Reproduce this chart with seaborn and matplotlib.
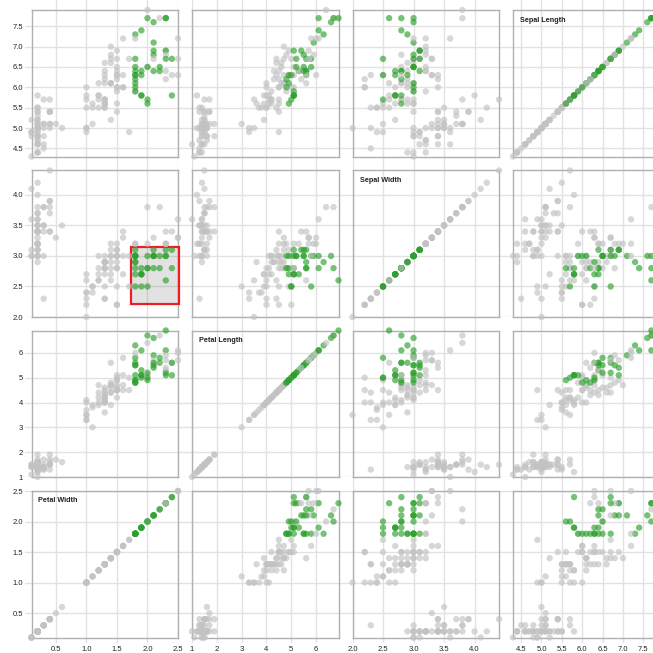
import matplotlib
matplotlib.use("Agg")
import matplotlib.pyplot as plt
import pandas as pd
import seaborn as sns
from matplotlib.patches import Rectangle

# Fisher's iris measurements (cm)
sepal_length = [
    5.1, 4.9, 4.7, 4.6, 5.0, 5.4, 4.6, 5.0, 4.4, 4.9, 5.4, 4.8, 4.8, 4.3, 5.8, 5.7, 5.4, 5.1, 5.7, 5.1,
    5.4, 5.1, 4.6, 5.1, 4.8, 5.0, 5.0, 5.2, 5.2, 4.7, 4.8, 5.4, 5.2, 5.5, 4.9, 5.0, 5.5, 4.9, 4.4, 5.1,
    5.0, 4.5, 4.4, 5.0, 5.1, 4.8, 5.1, 4.6, 5.3, 5.0,
    7.0, 6.4, 6.9, 5.5, 6.5, 5.7, 6.3, 4.9, 6.6, 5.2, 5.0, 5.9, 6.0, 6.1, 5.6, 6.7, 5.6, 5.8, 6.2, 5.6,
    5.9, 6.1, 6.3, 6.1, 6.4, 6.6, 6.8, 6.7, 6.0, 5.7, 5.5, 5.5, 5.8, 6.0, 5.4, 6.0, 6.7, 6.3, 5.6, 5.5,
    5.5, 6.1, 5.8, 5.0, 5.6, 5.7, 5.7, 6.2, 5.1, 5.7,
    6.3, 5.8, 7.1, 6.3, 6.5, 7.6, 4.9, 7.3, 6.7, 7.2, 6.5, 6.4, 6.8, 5.7, 5.8, 6.4, 6.5, 7.7, 7.7, 6.0,
    6.9, 5.6, 7.7, 6.3, 6.7, 7.2, 6.2, 6.1, 6.4, 7.2, 7.4, 7.9, 6.4, 6.3, 6.1, 7.7, 6.3, 6.4, 6.0, 6.9,
    6.7, 6.9, 5.8, 6.8, 6.7, 6.7, 6.3, 6.5, 6.2, 5.9,
]
sepal_width = [
    3.5, 3.0, 3.2, 3.1, 3.6, 3.9, 3.4, 3.4, 2.9, 3.1, 3.7, 3.4, 3.0, 3.0, 4.0, 4.4, 3.9, 3.5, 3.8, 3.8,
    3.4, 3.7, 3.6, 3.3, 3.4, 3.0, 3.4, 3.5, 3.4, 3.2, 3.1, 3.4, 4.1, 4.2, 3.1, 3.2, 3.5, 3.6, 3.0, 3.4,
    3.5, 2.3, 3.2, 3.5, 3.8, 3.0, 3.8, 3.2, 3.7, 3.3,
    3.2, 3.2, 3.1, 2.3, 2.8, 2.8, 3.3, 2.4, 2.9, 2.7, 2.0, 3.0, 2.2, 2.9, 2.9, 3.1, 3.0, 2.7, 2.2, 2.5,
    3.2, 2.8, 2.5, 2.8, 2.9, 3.0, 2.8, 3.0, 2.9, 2.6, 2.4, 2.4, 2.7, 2.7, 3.0, 3.4, 3.1, 2.3, 3.0, 2.5,
    2.6, 3.0, 2.6, 2.3, 2.7, 3.0, 2.9, 2.9, 2.5, 2.8,
    3.3, 2.7, 3.0, 2.9, 3.0, 3.0, 2.5, 2.9, 2.5, 3.6, 3.2, 2.7, 3.0, 2.5, 2.8, 3.2, 3.0, 3.8, 2.6, 2.2,
    3.2, 2.8, 2.8, 2.7, 3.3, 3.2, 2.8, 3.0, 2.8, 3.0, 2.8, 3.8, 2.8, 2.8, 2.6, 3.0, 3.4, 3.1, 3.0, 3.1,
    3.1, 3.1, 2.7, 3.2, 3.3, 3.0, 2.5, 3.0, 3.4, 3.0,
]
petal_length = [
    1.4, 1.4, 1.3, 1.5, 1.4, 1.7, 1.4, 1.5, 1.4, 1.5, 1.5, 1.6, 1.4, 1.1, 1.2, 1.5, 1.3, 1.4, 1.7, 1.5,
    1.7, 1.5, 1.0, 1.7, 1.9, 1.6, 1.6, 1.5, 1.4, 1.6, 1.6, 1.5, 1.5, 1.4, 1.5, 1.2, 1.3, 1.4, 1.3, 1.5,
    1.3, 1.3, 1.3, 1.6, 1.9, 1.4, 1.6, 1.4, 1.5, 1.4,
    4.7, 4.5, 4.9, 4.0, 4.6, 4.5, 4.7, 3.3, 4.6, 3.9, 3.5, 4.2, 4.0, 4.7, 3.6, 4.4, 4.5, 4.1, 4.5, 3.9,
    4.8, 4.0, 4.9, 4.7, 4.3, 4.4, 4.8, 5.0, 4.5, 3.5, 3.8, 3.7, 3.9, 5.1, 4.5, 4.5, 4.7, 4.4, 4.1, 4.0,
    4.4, 4.6, 4.0, 3.3, 4.2, 4.2, 4.2, 4.3, 3.0, 4.1,
    6.0, 5.1, 5.9, 5.6, 5.8, 6.6, 4.5, 6.3, 5.8, 6.1, 5.1, 5.3, 5.5, 5.0, 5.1, 5.3, 5.5, 6.7, 6.9, 5.0,
    5.7, 4.9, 6.7, 4.9, 5.7, 6.0, 4.8, 4.9, 5.6, 5.8, 6.1, 6.4, 5.6, 5.1, 5.6, 6.1, 5.6, 5.5, 4.8, 5.4,
    5.6, 5.1, 5.1, 5.9, 5.7, 5.2, 5.0, 5.2, 5.4, 5.1,
]
petal_width = [
    0.2, 0.2, 0.2, 0.2, 0.2, 0.4, 0.3, 0.2, 0.2, 0.1, 0.2, 0.2, 0.1, 0.1, 0.2, 0.4, 0.4, 0.3, 0.3, 0.3,
    0.2, 0.4, 0.2, 0.5, 0.2, 0.2, 0.4, 0.2, 0.2, 0.2, 0.2, 0.4, 0.1, 0.2, 0.2, 0.2, 0.2, 0.1, 0.2, 0.2,
    0.3, 0.3, 0.2, 0.6, 0.4, 0.3, 0.2, 0.2, 0.2, 0.2,
    1.4, 1.5, 1.5, 1.3, 1.5, 1.3, 1.6, 1.0, 1.3, 1.4, 1.0, 1.5, 1.0, 1.4, 1.3, 1.4, 1.5, 1.0, 1.5, 1.1,
    1.8, 1.3, 1.5, 1.2, 1.3, 1.4, 1.4, 1.7, 1.5, 1.0, 1.1, 1.0, 1.2, 1.6, 1.5, 1.6, 1.5, 1.3, 1.3, 1.3,
    1.2, 1.4, 1.2, 1.0, 1.3, 1.2, 1.3, 1.3, 1.1, 1.3,
    2.5, 1.9, 2.1, 1.8, 2.2, 2.1, 1.7, 1.8, 1.8, 2.5, 2.0, 1.9, 2.1, 2.0, 2.4, 2.3, 1.8, 2.2, 2.3, 1.5,
    2.3, 2.0, 2.0, 1.8, 2.1, 1.8, 1.8, 1.8, 2.1, 1.6, 1.9, 2.0, 2.2, 1.5, 1.4, 2.3, 2.4, 1.8, 1.8, 2.1,
    2.4, 2.3, 1.9, 2.3, 2.5, 2.3, 1.9, 2.0, 2.3, 1.8,
]

column_vars = ["petal_width", "petal_length", "sepal_width", "sepal_length"]
row_vars = ["sepal_length", "sepal_width", "petal_length", "petal_width"]
var_titles = {
    "sepal_length": "Sepal Length",
    "sepal_width": "Sepal Width",
    "petal_length": "Petal Length",
    "petal_width": "Petal Width",
}
var_ticks = {
    "sepal_length": [4.5, 5.0, 5.5, 6.0, 6.5, 7.0, 7.5],
    "sepal_width": [2.0, 2.5, 3.0, 3.5, 4.0],
    "petal_length": [1, 2, 3, 4, 5, 6],
    "petal_width": [0.5, 1.0, 1.5, 2.0, 2.5],
}
var_tick_fmt = {
    "sepal_length": "{:.1f}",
    "sepal_width": "{:.1f}",
    "petal_length": "{:.0f}",
    "petal_width": "{:.1f}",
}

# Brush drawn in the (sepal width, petal width) cell
brush_petal_width = (1.73, 2.52)
brush_sepal_width = (2.22, 3.14)

df = pd.DataFrame({
    "sepal_length": sepal_length,
    "sepal_width": sepal_width,
    "petal_length": petal_length,
    "petal_width": petal_width,
})
inside = (
    df["petal_width"].between(*brush_petal_width)
    & df["sepal_width"].between(*brush_sepal_width)
)
df["state"] = inside.map({True: "selected", False: "other"})
domains = {v: (df[v].min(), df[v].max()) for v in column_vars}

GRAY_POINT = "#c2c2c2"
GREEN_POINT = "#2ca02c"
GRID = "#e2e2e2"
FRAME = "#b0b0b0"
TEXT = "#222222"
FONT = ["Liberation Sans", "DejaVu Sans"]

W = H = 653.0
col_left = [31.5, 192.0, 352.5, 513.0]
row_top = [10.0, 170.5, 330.5, 491.0]
cell = 146.5


def frac(left, top, width, height):
    return [left / W, 1 - (top + height) / H, width / W, height / H]


sns.set_style("white")
plt.rcParams["font.family"] = FONT
fig = plt.figure(figsize=(W / 100, H / 100), dpi=100)

# Vertical grid lines running through every row of a column
for c, var in enumerate(column_vars):
    gx = fig.add_axes(frac(col_left[c], 0, cell, 643))
    gx.set_xlim(*domains[var])
    gx.set_xticks(var_ticks[var])
    gx.set_yticks([])
    gx.tick_params(length=0, labelbottom=False)
    gx.grid(axis="x", color=GRID, linewidth=1.0)
    gx.set_facecolor("none")
    for s in gx.spines.values():
        s.set_visible(False)
    gx.set_zorder(0)

# Horizontal grid lines running through every column of a row
for r, var in enumerate(row_vars):
    gy = fig.add_axes(frac(25, row_top[r], W - 25, cell))
    gy.set_ylim(*domains[var])
    gy.set_yticks(var_ticks[var])
    gy.set_xticks([])
    gy.tick_params(length=0, labelleft=False)
    gy.grid(axis="y", color=GRID, linewidth=1.0)
    gy.set_facecolor("none")
    for s in gy.spines.values():
        s.set_visible(False)
    gy.set_zorder(0)

for r, yvar in enumerate(row_vars):
    for c, xvar in enumerate(column_vars):
        ax = fig.add_axes(frac(col_left[c], row_top[r], cell, cell))
        ax.set_zorder(2 + r * 4 + c)
        ax.set_facecolor("none")

        if xvar == "petal_width" and yvar == "sepal_width":
            ax.add_patch(Rectangle(
                (brush_petal_width[0], brush_sepal_width[0]),
                brush_petal_width[1] - brush_petal_width[0],
                brush_sepal_width[1] - brush_sepal_width[0],
                facecolor="#333333", alpha=0.14, edgecolor="none", zorder=1,
                clip_on=False,
            ))
            ax.add_patch(Rectangle(
                (brush_petal_width[0], brush_sepal_width[0]),
                brush_petal_width[1] - brush_petal_width[0],
                brush_sepal_width[1] - brush_sepal_width[0],
                facecolor="none", edgecolor="#ee1c25", linewidth=1.6, zorder=1.5,
                clip_on=False,
            ))

        sns.scatterplot(
            data=df, x=xvar, y=yvar, hue="state",
            palette={"other": GRAY_POINT, "selected": GREEN_POINT},
            hue_order=["other", "selected"],
            s=21, alpha=0.65, linewidth=0, legend=False, ax=ax,
            clip_on=False, zorder=2,
        )
        ax.set_xlim(*domains[xvar])
        ax.set_ylim(*domains[yvar])
        ax.set_xlabel("")
        ax.set_ylabel("")
        ax.set_xticks(var_ticks[xvar])
        ax.set_yticks(var_ticks[yvar])
        ax.set_xticklabels([var_tick_fmt[xvar].format(t) for t in var_ticks[xvar]])
        ax.set_yticklabels([var_tick_fmt[yvar].format(t) for t in var_ticks[yvar]])
        ax.tick_params(
            length=0, labelsize=5.5, labelcolor=TEXT, pad=6,
            labelleft=(c == 0), labelbottom=(r == 3),
        )
        for s in ax.spines.values():
            s.set_color(FRAME)
            s.set_linewidth(1.0)
            s.set_zorder(0.5)

        if xvar == yvar:
            ax.text(
                7 / cell, 1 - 10 / cell, var_titles[xvar],
                transform=ax.transAxes, ha="left", va="center",
                fontsize=5.2, fontweight="bold", color=TEXT,
            )

fig.savefig("out.png", dpi=100)
